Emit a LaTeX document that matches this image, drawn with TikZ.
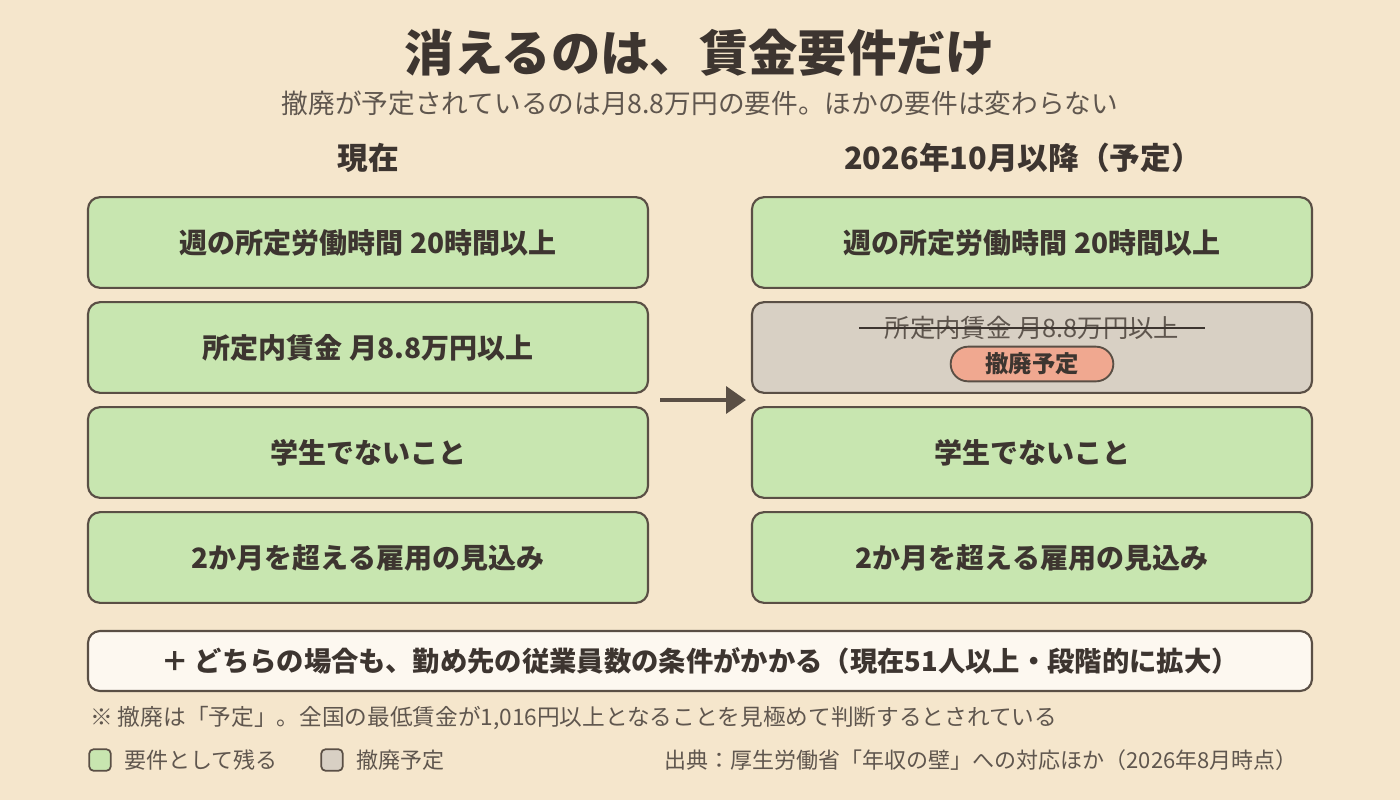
\documentclass[tikz,border=0pt]{standalone}
\usepackage{fontspec}
\usetikzlibrary{arrows.meta}
\setmainfont{Noto Sans CJK JP}
\definecolor{bg}{HTML}{F5E6CC}
\definecolor{grn}{HTML}{C8E6B0}
\definecolor{gry}{HTML}{D8D0C4}
\definecolor{pill}{HTML}{F0A890}
\definecolor{ink}{HTML}{3D3530}
\definecolor{soft}{HTML}{5F564E}
\definecolor{edge}{HTML}{5A4F45}
\definecolor{wht}{HTML}{FDF8F0}
\begin{document}
\begin{tikzpicture}[x=0.75pt,y=-0.75pt,
  box/.style={draw=edge,line width=1.6pt,rounded corners=9pt,minimum width=420pt,minimum height=68pt,text=ink,font=\fontsize{21}{24}\selectfont\bfseries},
  g/.style={box,fill=grn},
  t/.style={text=ink,inner sep=0pt}]
\fill[bg] (0,0) rectangle (1400,800);
\useasboundingbox (0,0) rectangle (1400,800);
\node[t,font=\fontsize{37}{42}\selectfont\bfseries] (title) at (700,53) {消えるのは、賃金要件だけ};
\node[t,text=soft,font=\fontsize{20}{24}\selectfont] (sub) at (700,103) {撤廃が予定されているのは月8.8万円の要件。ほかの要件は変わらない};
\node[t,font=\fontsize{23}{28}\selectfont\bfseries] (hl) at (368,158) {現在};
\node[t,font=\fontsize{23}{28}\selectfont\bfseries] (hr) at (1023,158) {2026年10月以降（予定）};
\node[g] (l1) at (368,242.5) {週の所定労働時間 20時間以上};
\node[g] (l2) at (368,347.5) {所定内賃金 月8.8万円以上};
\node[g] (l3) at (368,452.5) {学生でないこと};
\node[g] (l4) at (368,557.5) {2か月を超える雇用の見込み};
\node[g] (r1) at (1032,242.5) {週の所定労働時間 20時間以上};
\node[box,fill=gry] (r2) at (1032,347.5) {};
\node[g] (r3) at (1032,452.5) {学生でないこと};
\node[g] (r4) at (1032,557.5) {2か月を超える雇用の見込み};
\node[t,text=soft,font=\fontsize{19}{22}\selectfont] (st) at (1032,328) {所定内賃金 月8.8万円以上};
\draw[ink,line width=2pt] ([xshift=-19pt]st.west) -- ([xshift=19pt]st.east);
\node[draw=edge,line width=1.4pt,fill=pill,rounded corners=13pt,minimum width=122pt,minimum height=26pt,text=ink,font=\fontsize{17.5}{20}\selectfont\bfseries] (pl) at (1032,364) {撤廃予定};
\coordinate (a1) at (660,400);
\coordinate (a2) at (746,400);
\draw[edge,line width=3.5pt,-{Triangle[length=15pt,width=20pt]}] (a1) -- (a2);
\node[draw=edge,line width=1.6pt,fill=wht,rounded corners=9pt,minimum width=918pt,minimum height=45pt,text=ink,font=\fontsize{20.5}{24}\selectfont\bfseries] (bot) at (700,661) {＋ どちらの場合も、勤め先の従業員数の条件がかかる（現在51人以上・段階的に拡大）};
\node[t,anchor=west,text=soft,font=\fontsize{17}{20}\selectfont] (note) at (90,718) {※ 撤廃は「予定」。全国の最低賃金が1,016円以上となることを見極めて判断するとされている};
\node[draw=edge,line width=1.3pt,fill=grn,rounded corners=3pt,minimum size=16pt,inner sep=0pt] (lg1) at (100,760) {};
\node[t,anchor=west,text=soft,font=\fontsize{16.5}{20}\selectfont] (lt1) at (124,760) {要件として残る};
\node[draw=edge,line width=1.3pt,fill=gry,rounded corners=3pt,minimum size=16pt,inner sep=0pt] (lg2) at (332,760) {};
\node[t,anchor=west,text=soft,font=\fontsize{16.5}{20}\selectfont] (lt2) at (356,760) {撤廃予定};
\node[t,anchor=east,text=soft,font=\fontsize{16.5}{20}\selectfont] (src) at (1298,760) {出典：厚生労働省「年収の壁」への対応ほか（2026年8月時点）};
\end{tikzpicture}
\end{document}
